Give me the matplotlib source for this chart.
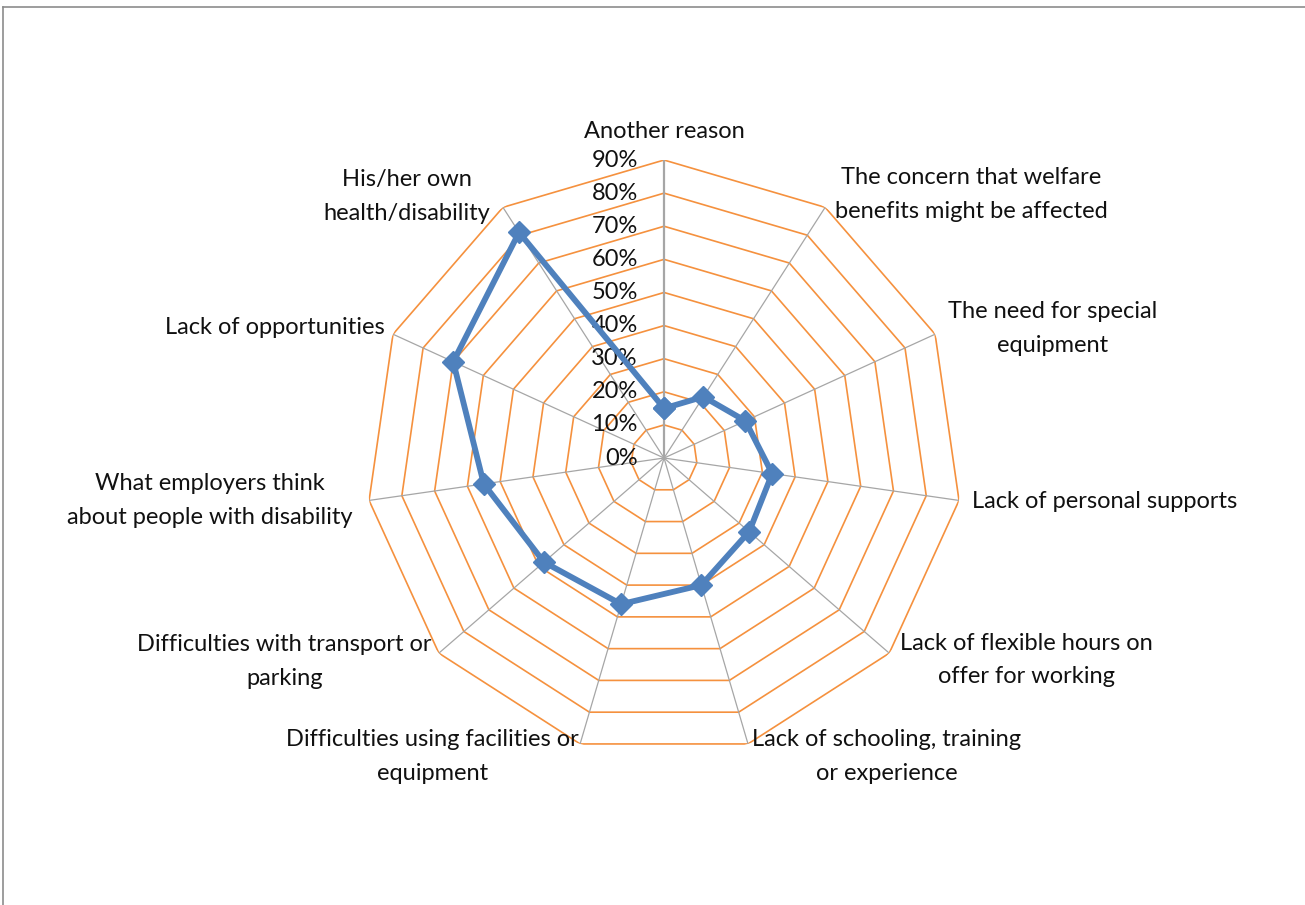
import numpy as np
import matplotlib
matplotlib.use('Agg')
import matplotlib.pyplot as plt
from matplotlib.lines import Line2D

plt.rcParams['font.family'] = ['Lato', 'DejaVu Sans']

# categories clockwise from the top
categories = ['Another reason',
              'The concern that welfare\nbenefits might be affected',
              'The need for special\nequipment',
              'Lack of personal supports',
              'Lack of flexible hours on\noffer for working',
              'Lack of schooling, training\nor experience',
              'Difficulties using facilities or\nequipment',
              'Difficulties with transport or\nparking',
              'What employers think\nabout people with disability',
              'Lack of opportunities',
              'His/her own\nhealth/disability']
values = [15, 22, 27, 33, 34, 40, 46, 48, 55, 70, 81]   # in %
ring_levels = [0, 10, 20, 30, 40, 50, 60, 70, 80, 90]
ring_labels = ['{}%'.format(v) for v in ring_levels]

# label placement (offset in points, alignment)
lab_off = [(0, 13, 'center', 'bottom'),
           (7, 9, 'left', 'center'),
           (9, 4, 'left', 'center'),
           (9, -1, 'left', 'center'),
           (8, -5, 'left', 'center'),
           (3, -9, 'left', 'center'),
           (-1, -9, 'right', 'center'),
           (-5, -6, 'right', 'center'),
           (-12, 0, 'right', 'center'),
           (-6, 5, 'right', 'center'),
           (-9, 8, 'right', 'center')]

n = len(categories)
theta = np.arange(n) * 2 * np.pi / n
theta_c = np.append(theta, theta[0])

fig = plt.figure(figsize=(13.05, 9.05), dpi=100)
ax = fig.add_axes([0.2805, 0.1646, 0.4567, 0.6586], projection='polar')
ax.set_theta_offset(np.pi / 2)
ax.set_theta_direction(-1)
ax.set_ylim(0, 90)
ax.grid(False)
ax.set_xticks([])
ax.set_yticks([])
ax.spines['polar'].set_visible(False)
ax.patch.set_alpha(0)

# polygon rings + spokes
for lvl in ring_levels[1:]:
    ax.plot(theta_c, [lvl] * (n + 1), color='#F5913E', lw=1.2, zorder=1)
for i, t in enumerate(theta):
    ax.plot([t, t], [0, 90], color='#A6A6A6', lw=1.6 if i == 0 else 0.9, zorder=2)

# data
ax.plot(theta_c, values + [values[0]], color='#4F81BD', lw=4.2, marker='D',
        ms=11, zorder=5, clip_on=False)

for lvl, lab in zip(ring_levels, ring_labels):
    ax.annotate(lab, xy=(0, lvl), xytext=(-19, 0), textcoords='offset points',
                ha='right', va='center', fontsize=17, color='#111111',
                annotation_clip=False)

for t, lab, (dx, dy, ha, va) in zip(theta, categories, lab_off):
    ax.annotate(lab, xy=(t, 90), xytext=(dx, dy), textcoords='offset points',
                ha=ha, va=va, multialignment='center', fontsize=17,
                color='#111111', linespacing=1.75, annotation_clip=False)

# chart border (only top and left edges visible)
fig.add_artist(Line2D([0.0023, 1], [0.9923, 0.9923], transform=fig.transFigure,
                      color='#8c8c8c', lw=1.2))
fig.add_artist(Line2D([0.0023, 0.0023], [0, 0.9923], transform=fig.transFigure,
                      color='#8c8c8c', lw=1.2))

plt.savefig('out.png', dpi=100)
